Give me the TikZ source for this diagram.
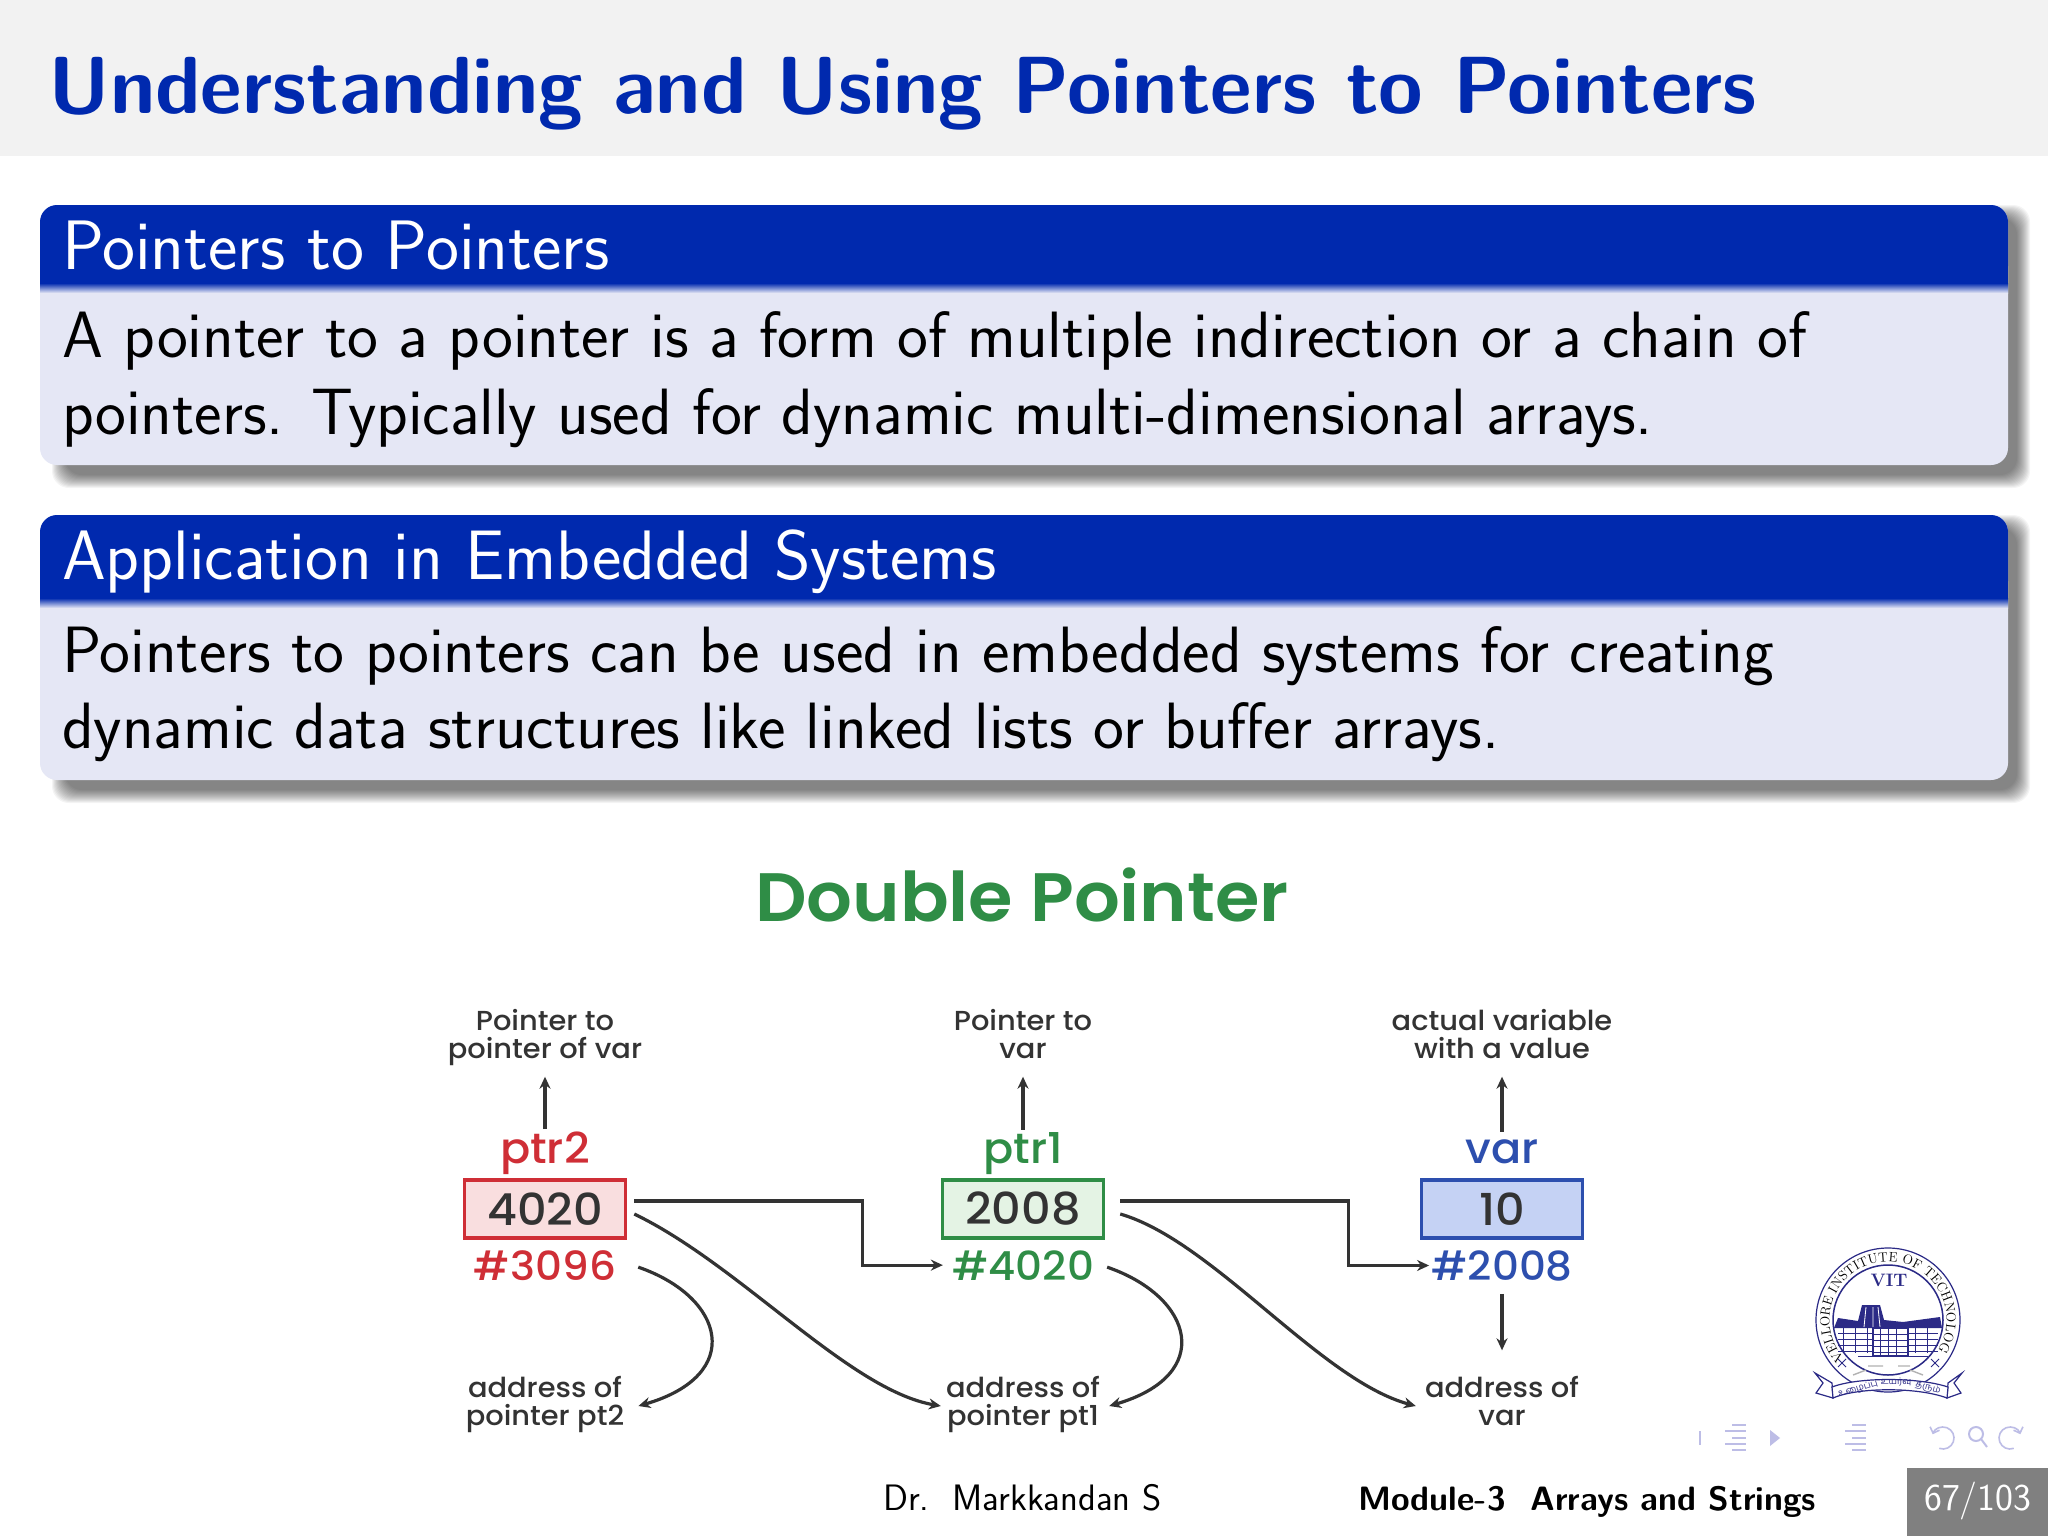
\documentclass[tikz,border=0pt]{standalone}
\usepackage{fontspec}
\usepackage{tikz}
\usetikzlibrary{arrows.meta, positioning, calc, decorations.text}

\newfontfamily\figfont[FakeStretch=1.05]{Poppins Medium}
\newfontfamily\figbold[FakeStretch=1.05]{Poppins SemiBold}
\newfontfamily\tamilfont[Script=Tamil]{Hind Madurai}

\definecolor{slideblue}{HTML}{0029AE}
\definecolor{bodyblue}{HTML}{E5E7F5}
\definecolor{barGray}{HTML}{F2F2F2}
\definecolor{figGreen}{HTML}{2F8D46}
\definecolor{figRed}{HTML}{CF2E36}
\definecolor{figBlue}{HTML}{2D4FAE}
\definecolor{figDark}{HTML}{333333}
\definecolor{fillRed}{HTML}{F9DEDF}
\definecolor{fillGreen}{HTML}{E4F3E4}
\definecolor{fillBlue}{HTML}{C5D2F4}
\definecolor{navPale}{HTML}{BDBDE6}
\definecolor{sealBlue}{HTML}{2B2A86}

\newcommand{\twolines}[2]{\strut\smash{#1}\\\strut\smash{#2}}

\tikzset{
    titletext/.style={anchor=base west, inner sep=0, text=slideblue, font=\sffamily\bfseries\fontsize{81}{90}\selectfont},
    headtext/.style={anchor=base west, inner sep=0, text=white, font=\sffamily\fontsize{70}{76}\selectfont},
    bodytext/.style={anchor=base west, inner sep=0, text=black, font=\sffamily\fontsize{65.5}{76}\selectfont},
    figlabel/.style={align=center, inner sep=0, text=figDark, font=\figfont\fontsize{27.5}{28.5}\selectfont},
    vartext/.style={anchor=base, inner sep=0, font=\figfont\fontsize{42.5}{44}\selectfont},
    hashtext/.style={anchor=base, inner sep=0, font=\figfont\fontsize{40}{44}\selectfont},
    valbox/.style={draw, line width=3.5pt, minimum width=161pt, minimum height=58pt, inner sep=0, text=figDark, font=\figfont\fontsize{44}{46}\selectfont},
    arrowline/.style={draw=figDark, line width=3.2pt, -{Stealth[length=12pt,width=11pt]}},
    foottext/.style={anchor=base west, inner sep=0, font=\sffamily\fontsize{36.8}{38}\selectfont},
}

% one beamer block with shadow and header
\newcommand{\slideblock}[3]{
    \foreach \k in {0,...,13} {
        \fill[black, opacity=0.042, rounded corners=17pt] (52+\k,#1+\k) rectangle (2030-\k,#3+23-\k);
    }
    \fill[bodyblue, rounded corners=17pt] (40,#1) rectangle (2008,#3);
    \fill[slideblue, rounded corners=17pt] (40,#2) -- (40,#1) -- (2008,#1) -- (2008,#2) -- cycle;
    \fill[slideblue] (40,#2-20) rectangle (2008,#2);
    \shade[top color=slideblue, bottom color=bodyblue] (40,#2) rectangle (2008,#2+10);
}

\begin{document}
\begin{tikzpicture}[x=1pt, y=-1pt]
\useasboundingbox (0,0) rectangle (2048,1536);
\fill[white] (0,0) rectangle (2048,1536);

% Title bar
\fill[barGray] (0,0) rectangle (2048,156);
\node[titletext] (title) at (48,114) {Understanding and Using Pointers to Pointers};

% Blocks
\slideblock{205}{283}{465}
\node[headtext] (headone) at (62,269) {Pointers to Pointers};
\node[bodytext] (bodyone) at (62,357) {A pointer to a pointer is a form of multiple indirection or a chain of};
\node[bodytext] (bodytwo) at (62,434) {pointers.  Typically used for dynamic multi-dimensional arrays.};

\slideblock{515}{598}{780}
\node[headtext] (headtwo) at (62,579) {Application in Embedded Systems};
\node[bodytext] (bodythree) at (62,672) {Pointers to pointers can be used in embedded systems for creating};
\node[bodytext] (bodyfour) at (62,748) {dynamic data structures like linked lists or buffer arrays.};

% Figure title
\node[anchor=base, inner sep=0, text=figGreen, font=\figbold\fontsize{68.5}{70}\selectfont] (figtitle) at (1022,921) {Double Pointer};

% Value boxes
\node[valbox, draw=figRed, fill=fillRed] (boxtwo) at (545,1209) {4020};
\node[valbox, draw=figGreen, fill=fillGreen] (boxone) at (1023,1209) {2008};
\node[valbox, draw=figBlue, fill=fillBlue] (boxvar) at (1502,1209) {10};

% Names above and addresses below
\node[vartext, text=figRed] (ptrtwo) at (545,1163) {ptr2};
\node[vartext, text=figGreen] (ptrone) at (1023,1163) {ptr1};
\node[vartext, text=figBlue] (ptrvar) at (1502,1163) {var\vphantom{t}};
\node[hashtext, text=figRed] (hashtwo) at (545,1280) {\#3096};
\node[hashtext, text=figGreen] (hashone) at (1023,1280) {\#4020};
\node[hashtext, text=figBlue] (hashvar) at (1502,1280) {\#2008};

% Captions
\node[figlabel] (toptwo) at (545,1039) {\twolines{Pointer to}{pointer of var}};
\node[figlabel] (topone) at (1023,1039) {\twolines{Pointer to}{var}};
\node[figlabel] (topvar) at (1502,1039) {\twolines{actual variable}{with a value}};
\node[figlabel] (addrtwo) at (545,1406) {\twolines{address of}{pointer pt2}};
\node[figlabel] (addrone) at (1023,1406) {\twolines{address of}{pointer pt1}};
\node[figlabel] (addrvar) at (1502,1406) {\twolines{address of}{var}};

% Straight arrows
\foreach \a/\b in {ptrtwo/toptwo, ptrone/topone, ptrvar/topvar} {
    \draw[arrowline, shorten <=2pt, shorten >=9pt] (\a.north) -- (\b.south);
}
\draw[arrowline, shorten <=13pt, shorten >=27pt] (hashvar.south) -- (addrvar.north);

% Elbow arrows
\draw[arrowline] ([xshift=7pt,yshift=8pt]boxtwo.east) -- ++(228,0) |- ([xshift=-9pt]hashone.west);
\draw[arrowline] ([xshift=15pt,yshift=8pt]boxone.east) -- ++(228,0) |- ([xshift=-2pt]hashvar.west);

% Curved arrows
\draw[arrowline] ([xshift=7pt,yshift=-5pt]boxtwo.east) .. controls +(106,51) and (849,1390) .. ([xshift=-5pt]addrone.west);
\draw[arrowline] ([xshift=15pt,yshift=-5pt]boxone.east) .. controls +(93,27) and (1320,1380) .. ([xshift=-9pt]addrvar.west);
\draw[arrowline] ([xshift=22pt,yshift=-2pt]hashtwo.east) .. controls +(87,30) and (745,1375) .. ([xshift=14pt]addrtwo.east);
\draw[arrowline] ([xshift=13pt,yshift=-2pt]hashone.east) .. controls +(87,30) and (1215,1375) .. ([xshift=9pt]addrone.east);

% Seal
\begin{scope}[shift={(1888,1320)}, y=1pt, sealBlue]
\draw[line width=1.2pt] (0,0) circle (72);
\draw[line width=1.5pt] (0,0) circle (55);
\path[decorate, decoration={text along path, text align=center,
    text={|\rmfamily\fontsize{13.5}{14}\selectfont|VELLORE INSTITUTE OF TECHNOLOGY}}] (212:58.5) arc (212:-32:58.5);
\node[inner sep=0, font=\rmfamily\bfseries\fontsize{18}{18}\selectfont] (sealname) at (1,40) {VIT};
\fill (-54,-8) -- (-50,2) -- (-30,-1) -- (-26,15) -- (-8,15) -- (-4,0) -- (15,-2) -- (52,3) -- (54,-8) -- cycle;
\draw[white, line width=0.8pt] (-22,13) -- (-24,-7) (-15,13) -- (-15,-7) (-10,13) -- (-8,-7);
\foreach \i in {-13,-19,-25,-31} {
    \draw[line width=0.6pt] (-50,\i) -- (50,\i);
}
\foreach \i in {-45,-33,...,45} {
    \draw[line width=0.4pt] (\i,-8) -- (\i,-33);
}
\draw[fill=white, line width=1.2pt] (-15,-8) rectangle (20,-36);
\foreach \i in {-14,-20,-26,-32} {
    \draw[line width=0.7pt] (-15,\i) -- (20,\i);
}
\foreach \i in {-8,0,...,14} {
    \draw[line width=0.5pt] (\i,-8) -- (\i,-36);
}
\draw[line width=1pt] (-30,-36) -- (40,-36);
\draw[gray!60, line width=1.4pt] (-20,-46) -- (-5,-46) (10,-46) -- (22,-46) (-35,-55) -- (-22,-50) (35,-55) -- (22,-50);
\foreach \c in {-46,47} {
    \draw[line width=1pt] (\c-4,-47) -- (\c+4,-39) (\c-4,-39) -- (\c+4,-47);
}
\draw[fill=white, line width=1.2pt] (-56,-63) -- (-73,-53) -- (-65,-63) -- (-72,-73) -- (-55,-78) -- cycle;
\draw[fill=white, line width=1.2pt] (60,-63) -- (74,-53) -- (66,-63) -- (73,-73) -- (59,-78) -- cycle;
\draw[fill=white, line width=1.2pt] (-56,-67) .. controls (-30,-57) and (30,-57) .. (60,-67) -- (59,-78) .. controls (30,-67) and (-30,-67) .. (-55,-78) -- cycle;
\node[inner sep=0, rotate=17, font=\tamilfont\fontsize{9}{9}\selectfont] (sealleft) at (-30,-69) {உழைப்பு};
\node[inner sep=0, font=\tamilfont\fontsize{9}{9}\selectfont] (sealmid) at (8,-62.5) {உயர்வு};
\node[inner sep=0, rotate=-14, font=\tamilfont\fontsize{9}{9}\selectfont] (sealright) at (40,-68) {தரும்};
\end{scope}

% Navigation symbols
\fill[navPale] (1699,1431) rectangle (1701,1445);
\fill[navPale] (1770,1430) -- (1780,1438) -- (1770,1446) -- cycle;
\foreach \x in {1725,1845} {
    \foreach \w/\y in {14/1425, 21/1431, 14/1438, 21/1444, 14/1450} {
        \fill[navPale] (\x+21-\w,\y-1) rectangle (\x+21,\y+1.2);
    }
}
\begin{scope}[shift={(1943,1438)}, y=1pt]
\draw[navPale, line width=1.6pt, -{Straight Barb[length=5pt]}] (-110:11) arc (-110:160:11);
\end{scope}
\draw[navPale, line width=2pt] (1976,1434) circle (7) (1981,1439) -- (1987,1447);
\begin{scope}[shift={(2010,1438)}, y=1pt]
\draw[navPale, line width=1.6pt, -{Straight Barb[length=5pt]}] (-70:11) arc (-70:-340:11);
\end{scope}

% Footer
\node[foottext] (author) at (883,1510) {Dr.\ \ Markkandan S};
\node[foottext, font=\sffamily\bfseries\fontsize{33.8}{36}\selectfont] (module) at (1358,1510) {Module-3\ \ Arrays and Strings};
\fill[gray] (1907,1468) rectangle (2048,1536);
\node[foottext, text=white, font=\sffamily\fontsize{38}{40}\selectfont] (page) at (1924,1510) {67/103};
\end{tikzpicture}
\end{document}
